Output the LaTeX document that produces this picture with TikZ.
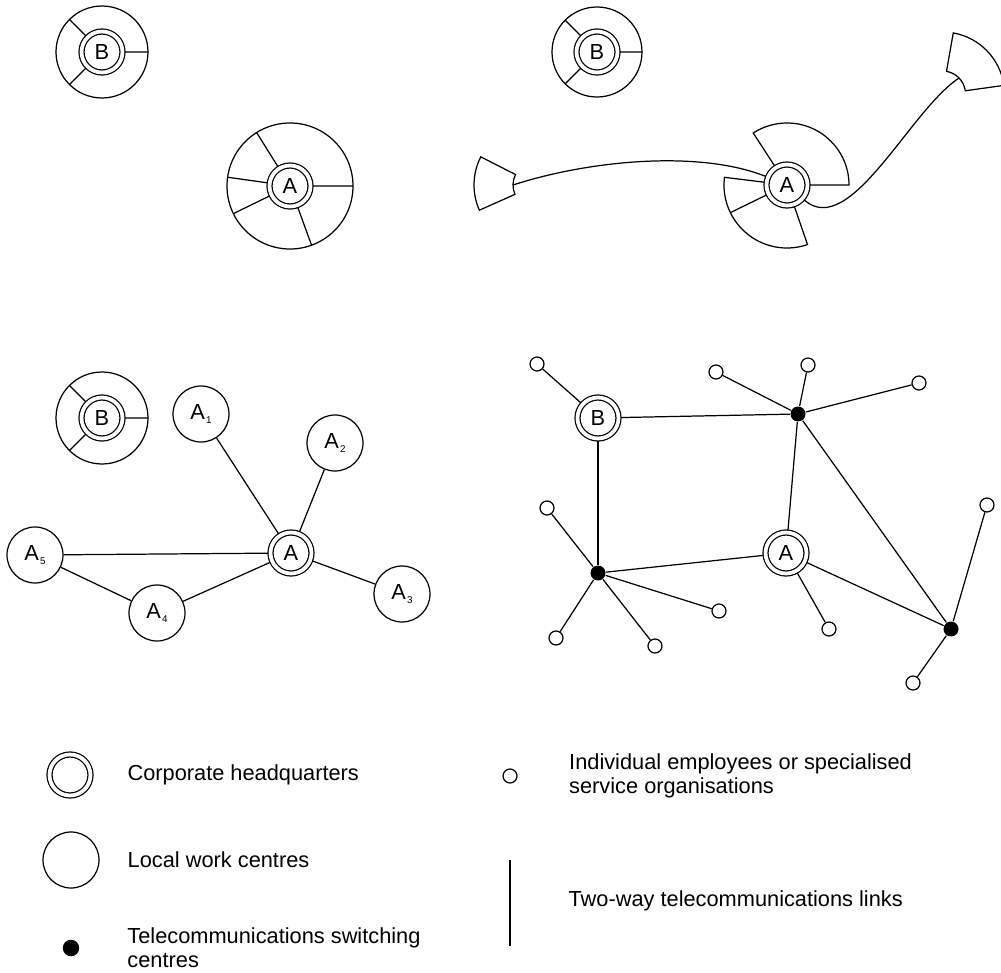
\documentclass[tikz,border=0pt]{standalone}
\usepackage{fontspec}
\setmainfont{Liberation Sans}
\usetikzlibrary{positioning}

\newcommand{\wsub}[1]{\kern0.6pt\raisebox{-1.8pt}{\fontsize{5.6}{6}\selectfont #1}}

\begin{document}
\begin{tikzpicture}[
    x=0.02cm, y=0.02cm, line width=0.7pt,
    font=\fontsize{12.4}{13.7}\selectfont,
    hq/.style={circle, draw, double, double distance=2.15pt, minimum size=0.82cm, inner sep=0pt, outer sep=1.4pt},
    work/.style={circle, draw, minimum size=1.12cm, inner sep=0pt},
    staff/.style={circle, draw, minimum size=0.28cm, inner sep=0pt},
    switch/.style={circle, fill, minimum size=0.3cm, inner sep=0pt},
    key/.style={align=left, inner sep=0pt}
  ]
  \useasboundingbox (0,0) rectangle (1001,-973);

  % first stage
  \node[hq] (B1) at (102,-52) {B};
  \draw (B1.center) circle[radius=46];
  \draw (B1.0) -- ([shift={(0:46)}]B1.center)
        (B1.135) -- ([shift={(135:46)}]B1.center)
        (B1.225) -- ([shift={(225:46)}]B1.center);

  \node[hq] (A1) at (290,-186) {A};
  \draw (A1.center) circle[radius=63];
  \draw (A1.0) -- ([shift={(0:63)}]A1.center)
        (A1.122) -- ([shift={(122:63)}]A1.center)
        (A1.172) -- ([shift={(172:63)}]A1.center)
        (A1.206) -- ([shift={(206:63)}]A1.center)
        (A1.290) -- ([shift={(290:63)}]A1.center);

  % second stage
  \node[hq] (B2) at (597,-52) {B};
  \draw (B2.center) circle[radius=45];
  \draw (B2.0) -- ([shift={(0:45)}]B2.center)
        (B2.135) -- ([shift={(135:45)}]B2.center)
        (B2.225) -- ([shift={(225:45)}]B2.center);

  \node[hq] (A2) at (787,-185) {A};
  \draw (A2.0) -- ([shift={(0:62)}]A2.center) arc[start angle=0, end angle=123, radius=62] -- (A2.123);
  \draw (A2.173) -- ([shift={(173:63)}]A2.center) arc[start angle=173, end angle=289, radius=63] -- (A2.289);
  \draw (A2.206) -- ([shift={(206:63)}]A2.center);

  \begin{scope}[shift={(536,-185)}]
    \draw (153:23) -- (153:62) arc[start angle=153, end angle=204, radius=62]
          -- (204:23) arc[start angle=204, end angle=153, radius=23] -- cycle;
    \coordinate (cutL) at (180:23);
  \end{scope}
  \begin{scope}[shift={(942.5,-94)}]
    \draw (8:23) -- (8:62) arc[start angle=8, end angle=80, radius=62]
          -- (80:23) arc[start angle=80, end angle=8, radius=23] -- cycle;
    \coordinate (cutR) at (44:23);
  \end{scope}

  \draw (cutL) .. controls (590,-160) and (700,-150) .. (A2);
  \draw (A2) .. controls (850,-240) and (910,-110) .. (cutR);

  % third stage
  \node[hq] (B3) at (102,-418) {B};
  \draw (B3.center) circle[radius=46];
  \draw (B3.0) -- ([shift={(0:46)}]B3.center)
        (B3.135) -- ([shift={(135:46)}]B3.center)
        (B3.225) -- ([shift={(225:46)}]B3.center);

  \node[hq] (A3) at (291,-553) {A};
  \node[work] (lw1) at (201,-414) {A\wsub{1}};
  \node[work] (lw2) at (335,-443) {A\wsub{2}};
  \node[work] (lw3) at (402,-594) {A\wsub{3}};
  \node[work] (lw4) at (157,-613) {A\wsub{4}};
  \node[work] (lw5) at (35,-555) {A\wsub{5}};
  \draw (lw1) -- (A3);
  \draw (lw2) -- (A3);
  \draw (lw3) -- (A3);
  \draw (lw4) -- (A3);
  \draw (lw5) -- (A3);
  \draw (lw5) -- (lw4);

  % fourth stage
  \node[hq] (B4) at (598,-418) {B};
  \node[hq] (A4) at (786,-553) {A};
  \node[switch] (sw1) at (798,-414) {};
  \node[switch] (sw2) at (598,-573) {};
  \node[switch] (sw3) at (951,-629) {};

  \node[staff] (e1) at (537,-364) {};
  \node[staff] (e2) at (716,-372) {};
  \node[staff] (e3) at (808,-365) {};
  \node[staff] (e4) at (919,-383) {};
  \node[staff] (e5) at (547,-508) {};
  \node[staff] (e6) at (719,-611) {};
  \node[staff] (e7) at (556,-638) {};
  \node[staff] (e8) at (655,-646) {};
  \node[staff] (e9) at (829,-629) {};
  \node[staff] (e10) at (987,-505) {};
  \node[staff] (e11) at (913,-683) {};

  \draw (B4) -- (e1);
  \draw (B4) -- (sw1);
  \draw (B4) -- (sw2);
  \draw (sw1) -- (e2);
  \draw (sw1) -- (e3);
  \draw (sw1) -- (e4);
  \draw (sw1) -- (A4);
  \draw (sw1) -- (sw3);
  \draw (sw2) -- (e5);
  \draw (sw2) -- (A4);
  \draw (sw2) -- (e6);
  \draw (sw2) -- (e7);
  \draw (sw2) -- (e8);
  \draw (A4) -- (e9);
  \draw (A4) -- (sw3);
  \draw (sw3) -- (e10);
  \draw (sw3) -- (e11);

  % key
  \node[hq] (keyhq) at (70,-775) {};
  \node[key, right=0.68cm of keyhq] {Corporate headquarters};
  \node[work] (keywork) at (71,-860) {};
  \node[key, right=0.55cm of keywork] {Local work centres};
  \node[switch, minimum size=0.33cm] (keysw) at (71,-948) {};
  \node[key, right=0.94cm of keysw] {Telecommunications switching\\centres};
  \node[staff] (keystaff) at (510,-776) {};
  \node[key, right=1.02cm of keystaff] {Individual employees or specialised\\service organisations};
  \coordinate (keytop) at (510,-860);
  \coordinate (keybot) at (510,-946);
  \draw (keytop) -- (keybot);
  \node[key, anchor=west] at (568,-901) {Two-way telecommunications links};

\end{tikzpicture}
\end{document}
